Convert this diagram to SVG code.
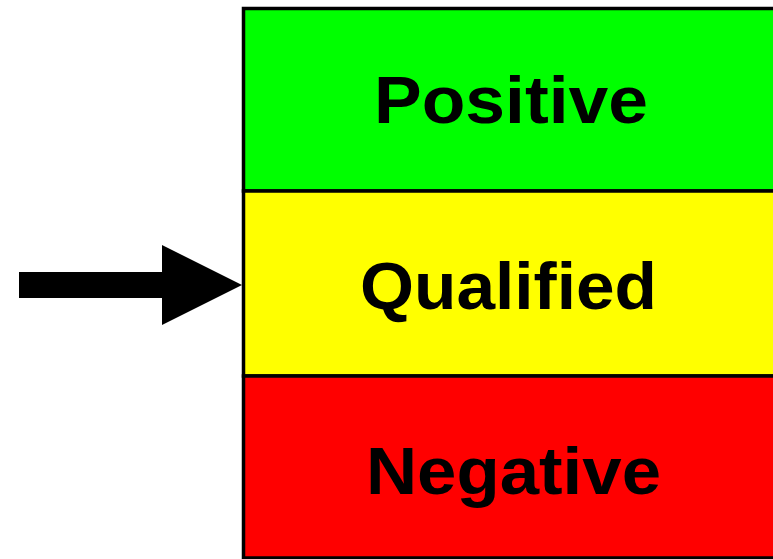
<svg xmlns="http://www.w3.org/2000/svg" width="773" height="559" viewBox="0 0 773 559">
<style>
.box{stroke:#000;stroke-width:3.5}
.lbl{font-family:"Liberation Sans",Arial,sans-serif;font-weight:bold;font-size:67px;fill:#000;text-anchor:middle}
</style>
<rect width="773" height="559" fill="#fff"/>
<g id="positive">
<rect class="box" x="243.5" y="8.5" width="540" height="182.5" fill="#00ff00"/>
<text class="lbl" x="511" y="123" textLength="274" lengthAdjust="spacingAndGlyphs">Positive</text>
</g>
<g id="qualified">
<rect class="box" x="243.5" y="191" width="540" height="185" fill="#ffff00"/>
<text class="lbl" x="508.5" y="309" textLength="297" lengthAdjust="spacingAndGlyphs">Qualified</text>
</g>
<g id="negative">
<rect class="box" x="243.5" y="376" width="540" height="182" fill="#ff0000"/>
<text class="lbl" x="513.5" y="494" textLength="295" lengthAdjust="spacingAndGlyphs">Negative</text>
</g>
<g id="connectors">
<polygon points="19,272 162,272 162,245 242,285 162,325 162,298 19,298" fill="#000"/>
</g>
</svg>
